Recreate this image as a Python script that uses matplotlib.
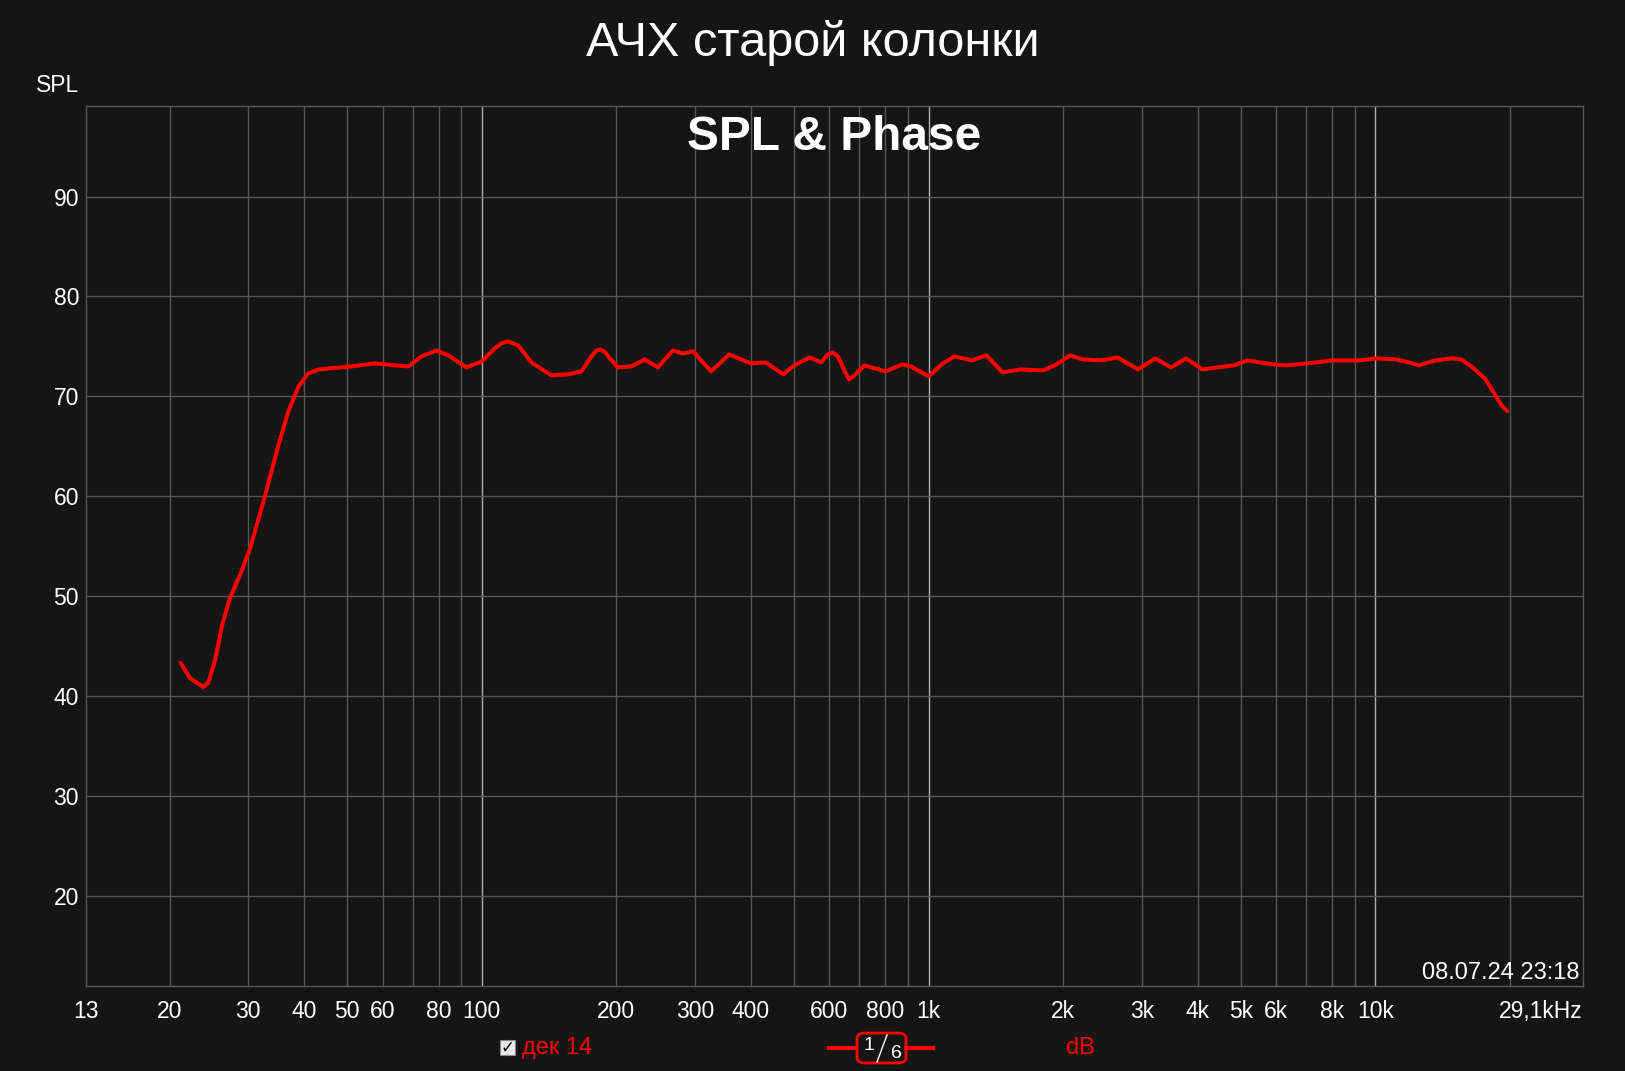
import numpy as np
import matplotlib
matplotlib.use("agg")
from matplotlib import pyplot as plt
from matplotlib.patches import FancyBboxPatch, Rectangle
from matplotlib.lines import Line2D

plt.rcParams['font.family'] = ['Liberation Sans', 'DejaVu Sans']

freq = [21.2, 22.2, 23.8, 24.4, 25.3, 26.2, 27.3, 29.0, 30.3, 32.7, 35.0, 36.9,
        38.9, 40.9, 43.1, 51.2, 57.7, 63.9, 68.5, 73.3, 79.2, 84.1, 92.4, 100,
        106.9, 110.5, 114.5, 120.6, 129.1, 143.1, 156.1, 167.1, 175.9, 180.5,
        184.4, 189, 193.3, 201.8, 216.1, 231.6, 247.7, 267.7, 281.8, 296.9,
        326.0, 357.8, 400.0, 431.7, 473.1, 500.2, 541.1, 575.1, 594.5, 610.1,
        626.6, 649.3, 663.6, 682.6, 718.6, 800.7, 873.6, 911.5, 1001, 1069,
        1142, 1251, 1347, 1465, 1607, 1806, 1915, 2075, 2212, 2443, 2646, 2942,
        3215, 3490, 3767, 4100, 4822, 5165, 5916, 6334, 7018, 8033, 9184, 10060,
        11124, 11893, 12510, 13620, 14793, 15575, 16396, 17580, 18340, 19160,
        19760]
spl = [43.3, 41.8, 40.9, 41.3, 43.6, 47.0, 49.8, 52.5, 54.8, 60.0, 65.0, 68.5,
       71.0, 72.3, 72.7, 73.0, 73.3, 73.1, 73.0, 74.0, 74.6, 74.1, 72.9, 73.5,
       74.8, 75.3, 75.5, 75.1, 73.4, 72.1, 72.2, 72.5, 74.0, 74.6,
       74.7, 74.4, 73.8, 72.9, 73.0, 73.7, 72.9, 74.6, 74.3, 74.5,
       72.5, 74.2, 73.3, 73.4, 72.2, 73.1, 73.9, 73.4, 74.2, 74.4,
       74.0, 72.5, 71.7, 72.1, 73.1, 72.5, 73.2, 73.0, 72.0, 73.2,
       74.0, 73.6, 74.1, 72.4, 72.7, 72.6, 73.1, 74.1, 73.7, 73.6, 73.9, 72.7,
       73.8, 72.9, 73.8, 72.7, 73.1, 73.6, 73.2, 73.1, 73.3, 73.6, 73.6, 73.8,
       73.7, 73.4, 73.1, 73.6, 73.8, 73.7, 73.0, 71.8, 70.5, 69.1,
       68.5]

xtick_pos = [13, 20, 30, 40, 50, 60, 80, 100, 200, 300, 400, 600, 800, 1000,
             2000, 3000, 4000, 5000, 6000, 8000, 10000, 29100]
xtick_lab = ["13", "20", "30", "40", "50", "60", "80", "100", "200", "300", "400",
             "600", "800", "1k", "2k", "3k", "4k", "5k", "6k", "8k", "10k", "29,1kHz"]
ytick_pos = [20, 30, 40, 50, 60, 70, 80, 90]

bg = "#151515"
grid_col = "#575757"
decade_col = "#b0b0b0"

fig = plt.figure(figsize=(16.25, 10.71), dpi=100, facecolor=bg)
ax = fig.add_axes([0.0529, 0.0797, 0.9210, 0.8216], facecolor=bg)
ax.set_xscale("log")
ax.set_xlim(13, 29100)
ax.set_ylim(11, 99.1)

# grid
for dec in [10, 100, 1000, 10000]:
    for k in range(1, 10):
        f = dec * k
        if f <= 13 or f >= 29100:
            continue
        c = decade_col if k == 1 else grid_col
        ax.axvline(f, color=c, lw=1, zorder=1)
for y in ytick_pos:
    ax.axhline(y, color=grid_col, lw=1, zorder=1)

ax.plot(freq, spl, color="#ff0000", lw=2.9, zorder=3,
        solid_joinstyle="round", solid_capstyle="round")

ax.set_xticks(xtick_pos)
ax.set_xticklabels(xtick_lab)
ax.xaxis.set_minor_locator(matplotlib.ticker.NullLocator())
ax.set_yticks(ytick_pos)
ax.set_yticklabels([str(v) for v in ytick_pos])
ax.tick_params(axis="both", length=0, colors="white", labelsize=16.5)
ax.tick_params(axis="x", pad=10)
ax.tick_params(axis="y", pad=5)
ax.get_xticklabels()[-1].set_ha("right")
for s in ax.spines.values():
    s.set_color(grid_col)
    s.set_linewidth(1)

ax.text(0.5, 0.964, "SPL & Phase", transform=ax.transAxes, ha="center", va="center",
        color="white", fontsize=34.5, fontweight="bold")
ax.text(0.998, 0.002, "08.07.24 23:18", transform=ax.transAxes, ha="right",
        va="bottom", color="white", fontsize=17)

fig.text(0.5, 0.96, "АЧХ старой колонки", ha="center", va="center",
         color="white", fontsize=35)
fig.text(0.022, 0.92, "SPL", ha="left", va="center", color="white", fontsize=16.5)

# bottom legend
W, H = 1625.0, 1071.0
ly = 1 - 1048 / H
fig.patches.append(Rectangle((500 / W, ly - 7 / H), 15 / W, 15 / H,
                             transform=fig.transFigure, facecolor="#e8e8e8",
                             edgecolor="#888888", lw=0.8))
fig.text(507.5 / W, ly, "✓", ha="center", va="center", color="black",
         fontsize=12, fontweight="bold", family=["DejaVu Sans"])
fig.text(522 / W, ly, "дек 14", ha="left", va="center", color="#ff0000", fontsize=17)
fig.text(1080 / W, ly, "dB", ha="center", va="center", color="#ff0000", fontsize=17)

fig.lines.append(Line2D([829 / W, 856 / W], [ly, ly], transform=fig.transFigure,
                        color="#ff0000", lw=3))
fig.lines.append(Line2D([906 / W, 933 / W], [ly, ly], transform=fig.transFigure,
                        color="#ff0000", lw=3))
fig.patches.append(FancyBboxPatch((857 / W, 1 - 1063 / H), 49 / W, 30 / H,
                                  boxstyle="round,pad=0,rounding_size=0.005",
                                  transform=fig.transFigure, facecolor="none",
                                  edgecolor="#ff0000", lw=2))
fig.text(869 / W, 1 - 1046 / H, "1", ha="center", va="center", color="white", fontsize=14)
fig.text(896 / W, 1 - 1054 / H, "6", ha="center", va="center", color="white", fontsize=14)
fig.lines.append(Line2D([877 / W, 887 / W], [1 - 1062 / H, 1 - 1035 / H],
                        transform=fig.transFigure, color="white", lw=1))

fig.savefig("out.png", dpi=100, facecolor=bg)
